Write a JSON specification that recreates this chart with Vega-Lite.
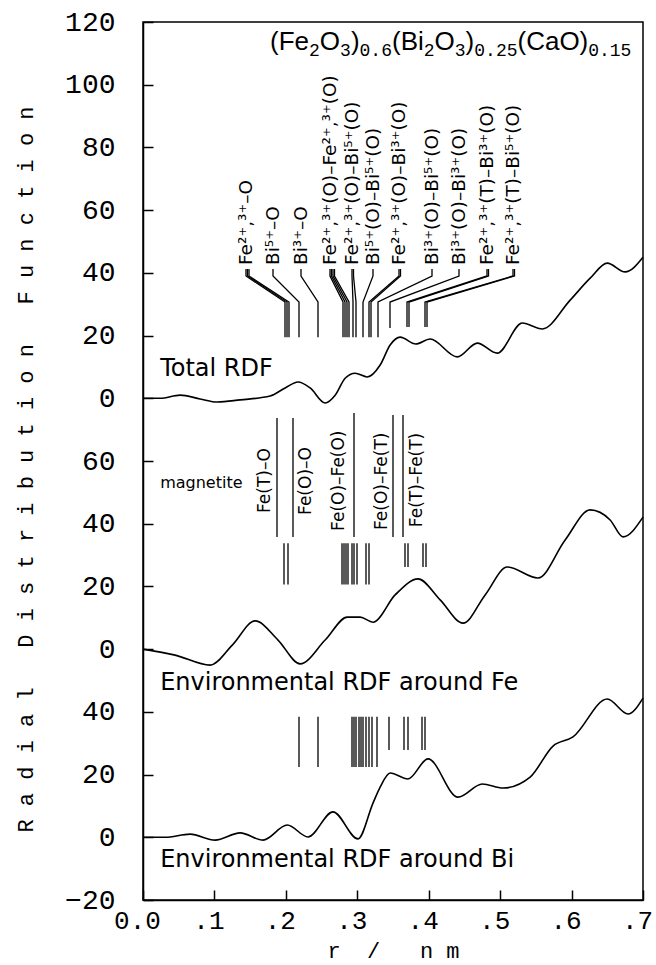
{
"$schema": "https://vega.github.io/schema/vega-lite/v6.json",
"width": 500, "height": 878,
"autosize": {"type": "none"},
"padding": {"left": 143, "top": 22, "right": 13, "bottom": 65},
"background": "white",
"config": {"view": {"stroke": "black", "strokeWidth": 1.5}, "axis": {"grid": false}},
"data": {"values": [
{"k":"c","s":"T","r":0,"g":0},{"k":"c","s":"T","r":0.024,"g":0},{"k":"c","s":"T","r":0.052,"g":1.0},{"k":"c","s":"T","r":0.080,"g":-0.2},{"k":"c","s":"T","r":0.104,"g":-1.2},{"k":"c","s":"T","r":0.136,"g":-0.5},{"k":"c","s":"T","r":0.178,"g":0.7},{"k":"c","s":"T","r":0.199,"g":3.3},{"k":"c","s":"T","r":0.217,"g":5.2},{"k":"c","s":"T","r":0.234,"g":3.3},{"k":"c","s":"T","r":0.255,"g":-1.5},{"k":"c","s":"T","r":0.269,"g":1.0},{"k":"c","s":"T","r":0.283,"g":6.4},{"k":"c","s":"T","r":0.297,"g":8.0},{"k":"c","s":"T","r":0.314,"g":6.8},{"k":"c","s":"T","r":0.332,"g":10.6},{"k":"c","s":"T","r":0.346,"g":17.0},{"k":"c","s":"T","r":0.360,"g":19.5},{"k":"c","s":"T","r":0.382,"g":17.3},{"k":"c","s":"T","r":0.402,"g":18.9},{"k":"c","s":"T","r":0.440,"g":13.2},{"k":"c","s":"T","r":0.468,"g":17.6},{"k":"c","s":"T","r":0.496,"g":14.4},{"k":"c","s":"T","r":0.531,"g":24.0},{"k":"c","s":"T","r":0.559,"g":22.1},{"k":"c","s":"T","r":0.598,"g":31.3},{"k":"c","s":"T","r":0.626,"g":38.3},{"k":"c","s":"T","r":0.650,"g":43.1},{"k":"c","s":"T","r":0.675,"g":40.3},{"k":"c","s":"T","r":0.700,"g":45.0},
{"k":"c","s":"F","r":0,"g":0},{"k":"c","s":"F","r":0.045,"g":-1.9},{"k":"c","s":"F","r":0.094,"g":-5.1},{"k":"c","s":"F","r":0.125,"g":1.3},{"k":"c","s":"F","r":0.157,"g":9.0},{"k":"c","s":"F","r":0.189,"g":2.9},{"k":"c","s":"F","r":0.220,"g":-4.7},{"k":"c","s":"F","r":0.255,"g":2.9},{"k":"c","s":"F","r":0.286,"g":10.2},{"k":"c","s":"F","r":0.304,"g":10.2},{"k":"c","s":"F","r":0.322,"g":8.6},{"k":"c","s":"F","r":0.353,"g":17.3},{"k":"c","s":"F","r":0.385,"g":22.4},{"k":"c","s":"F","r":0.416,"g":15.7},{"k":"c","s":"F","r":0.448,"g":8.3},{"k":"c","s":"F","r":0.479,"g":17.3},{"k":"c","s":"F","r":0.510,"g":26.2},{"k":"c","s":"F","r":0.553,"g":22.7},{"k":"c","s":"F","r":0.591,"g":34.8},{"k":"c","s":"F","r":0.626,"g":44.4},{"k":"c","s":"F","r":0.654,"g":41.2},{"k":"c","s":"F","r":0.672,"g":35.8},{"k":"c","s":"F","r":0.700,"g":42.1},
{"k":"c","s":"B","r":0,"g":0},{"k":"c","s":"B","r":0.031,"g":0},{"k":"c","s":"B","r":0.066,"g":1.0},{"k":"c","s":"B","r":0.101,"g":-0.9},{"k":"c","s":"B","r":0.136,"g":1.4},{"k":"c","s":"B","r":0.168,"g":-0.9},{"k":"c","s":"B","r":0.202,"g":3.9},{"k":"c","s":"B","r":0.231,"g":0.1},{"k":"c","s":"B","r":0.266,"g":8.1},{"k":"c","s":"B","r":0.301,"g":-0.5},{"k":"c","s":"B","r":0.322,"g":10.9},{"k":"c","s":"B","r":0.332,"g":16.0},{"k":"c","s":"B","r":0.346,"g":20.5},{"k":"c","s":"B","r":0.371,"g":18.6},{"k":"c","s":"B","r":0.399,"g":25.0},{"k":"c","s":"B","r":0.441,"g":12.8},{"k":"c","s":"B","r":0.475,"g":17.0},{"k":"c","s":"B","r":0.504,"g":15.7},{"k":"c","s":"B","r":0.542,"g":19.2},{"k":"c","s":"B","r":0.574,"g":29.1},{"k":"c","s":"B","r":0.602,"g":32.0},{"k":"c","s":"B","r":0.650,"g":44.1},{"k":"c","s":"B","r":0.679,"g":39.3},{"k":"c","s":"B","r":0.700,"g":44.4},

{"k":"s","s":"T","id":"t1a","o":0,"r":0.1442,"g":41.2},{"k":"s","s":"T","id":"t1a","o":1,"r":0.1442,"g":39.0},{"k":"s","s":"T","id":"t1a","o":2,"r":0.1988,"g":30.7},{"k":"s","s":"T","id":"t1a","o":3,"r":0.1988,"g":19.5},
{"k":"s","s":"T","id":"t1b","o":0,"r":0.1463,"g":41.2},{"k":"s","s":"T","id":"t1b","o":1,"r":0.1463,"g":39.0},{"k":"s","s":"T","id":"t1b","o":2,"r":0.2016,"g":30.7},{"k":"s","s":"T","id":"t1b","o":3,"r":0.2016,"g":19.5},
{"k":"s","s":"T","id":"t1c","o":0,"r":0.1484,"g":41.2},{"k":"s","s":"T","id":"t1c","o":1,"r":0.1484,"g":39.0},{"k":"s","s":"T","id":"t1c","o":2,"r":0.2044,"g":30.7},{"k":"s","s":"T","id":"t1c","o":3,"r":0.2044,"g":19.5},
{"k":"s","s":"T","id":"t2","o":0,"r":0.1820,"g":41.2},{"k":"s","s":"T","id":"t2","o":1,"r":0.1820,"g":39.0},{"k":"s","s":"T","id":"t2","o":2,"r":0.2184,"g":30.7},{"k":"s","s":"T","id":"t2","o":3,"r":0.2184,"g":19.5},
{"k":"s","s":"T","id":"t3","o":0,"r":0.2212,"g":41.2},{"k":"s","s":"T","id":"t3","o":1,"r":0.2212,"g":39.0},{"k":"s","s":"T","id":"t3","o":2,"r":0.2450,"g":30.7},{"k":"s","s":"T","id":"t3","o":3,"r":0.2450,"g":19.5},
{"k":"s","s":"T","id":"t4a","o":0,"r":0.2618,"g":41.2},{"k":"s","s":"T","id":"t4a","o":1,"r":0.2618,"g":39.0},{"k":"s","s":"T","id":"t4a","o":2,"r":0.2800,"g":30.7},{"k":"s","s":"T","id":"t4a","o":3,"r":0.2800,"g":19.5},
{"k":"s","s":"T","id":"t4b","o":0,"r":0.2639,"g":41.2},{"k":"s","s":"T","id":"t4b","o":1,"r":0.2639,"g":39.0},{"k":"s","s":"T","id":"t4b","o":2,"r":0.2828,"g":30.7},{"k":"s","s":"T","id":"t4b","o":3,"r":0.2828,"g":19.5},
{"k":"s","s":"T","id":"t4c","o":0,"r":0.2660,"g":41.2},{"k":"s","s":"T","id":"t4c","o":1,"r":0.2660,"g":39.0},{"k":"s","s":"T","id":"t4c","o":2,"r":0.2856,"g":30.7},{"k":"s","s":"T","id":"t4c","o":3,"r":0.2856,"g":19.5},
{"k":"s","s":"T","id":"t4d","o":0,"r":0.2681,"g":41.2},{"k":"s","s":"T","id":"t4d","o":1,"r":0.2681,"g":39.0},{"k":"s","s":"T","id":"t4d","o":2,"r":0.2884,"g":30.7},{"k":"s","s":"T","id":"t4d","o":3,"r":0.2884,"g":19.5},
{"k":"s","s":"T","id":"t5a","o":0,"r":0.2926,"g":41.2},{"k":"s","s":"T","id":"t5a","o":1,"r":0.2926,"g":39.0},{"k":"s","s":"T","id":"t5a","o":2,"r":0.2940,"g":30.7},{"k":"s","s":"T","id":"t5a","o":3,"r":0.2940,"g":19.5},
{"k":"s","s":"T","id":"t5b","o":0,"r":0.2947,"g":41.2},{"k":"s","s":"T","id":"t5b","o":1,"r":0.2947,"g":39.0},{"k":"s","s":"T","id":"t5b","o":2,"r":0.2982,"g":30.7},{"k":"s","s":"T","id":"t5b","o":3,"r":0.2982,"g":19.5},
{"k":"s","s":"T","id":"t6","o":0,"r":0.3220,"g":41.2},{"k":"s","s":"T","id":"t6","o":1,"r":0.3220,"g":39.0},{"k":"s","s":"T","id":"t6","o":2,"r":0.3080,"g":30.7},{"k":"s","s":"T","id":"t6","o":3,"r":0.3080,"g":19.5},
{"k":"s","s":"T","id":"t7a","o":0,"r":0.3584,"g":41.2},{"k":"s","s":"T","id":"t7a","o":1,"r":0.3584,"g":39.0},{"k":"s","s":"T","id":"t7a","o":2,"r":0.3164,"g":30.7},{"k":"s","s":"T","id":"t7a","o":3,"r":0.3164,"g":19.5},
{"k":"s","s":"T","id":"t7b","o":0,"r":0.3605,"g":41.2},{"k":"s","s":"T","id":"t7b","o":1,"r":0.3605,"g":39.0},{"k":"s","s":"T","id":"t7b","o":2,"r":0.3192,"g":30.7},{"k":"s","s":"T","id":"t7b","o":3,"r":0.3192,"g":19.5},
{"k":"s","s":"T","id":"t8","o":0,"r":0.4046,"g":41.2},{"k":"s","s":"T","id":"t8","o":1,"r":0.4046,"g":39.0},{"k":"s","s":"T","id":"t8","o":2,"r":0.3290,"g":30.7},{"k":"s","s":"T","id":"t8","o":3,"r":0.3290,"g":19.5},
{"k":"s","s":"T","id":"t9","o":0,"r":0.4424,"g":41.2},{"k":"s","s":"T","id":"t9","o":1,"r":0.4424,"g":39.0},{"k":"s","s":"T","id":"t9","o":2,"r":0.3458,"g":30.7},{"k":"s","s":"T","id":"t9","o":3,"r":0.3458,"g":22.4},
{"k":"s","s":"T","id":"t10a","o":0,"r":0.4816,"g":41.2},{"k":"s","s":"T","id":"t10a","o":1,"r":0.4816,"g":39.0},{"k":"s","s":"T","id":"t10a","o":2,"r":0.3696,"g":30.7},{"k":"s","s":"T","id":"t10a","o":3,"r":0.3696,"g":22.7},
{"k":"s","s":"T","id":"t10b","o":0,"r":0.4837,"g":41.2},{"k":"s","s":"T","id":"t10b","o":1,"r":0.4837,"g":39.0},{"k":"s","s":"T","id":"t10b","o":2,"r":0.3724,"g":30.7},{"k":"s","s":"T","id":"t10b","o":3,"r":0.3724,"g":22.7},
{"k":"s","s":"T","id":"t11a","o":0,"r":0.5180,"g":41.2},{"k":"s","s":"T","id":"t11a","o":1,"r":0.5180,"g":39.0},{"k":"s","s":"T","id":"t11a","o":2,"r":0.3948,"g":30.7},{"k":"s","s":"T","id":"t11a","o":3,"r":0.3948,"g":22.7},
{"k":"s","s":"T","id":"t11b","o":0,"r":0.5201,"g":41.2},{"k":"s","s":"T","id":"t11b","o":1,"r":0.5201,"g":39.0},{"k":"s","s":"T","id":"t11b","o":2,"r":0.3976,"g":30.7},{"k":"s","s":"T","id":"t11b","o":3,"r":0.3976,"g":22.7},

{"k":"l","s":"F","r":0.1876,"g":35.8,"g2":73.7},{"k":"l","s":"F","r":0.2100,"g":35.8,"g2":73.7},{"k":"l","s":"F","r":0.2954,"g":35.8,"g2":75.3},{"k":"l","s":"F","r":0.3500,"g":35.8,"g2":74.7},{"k":"l","s":"F","r":0.3640,"g":35.8,"g2":74.7},
{"k":"l","s":"F","r":0.1974,"g":20.6,"g2":33.8},{"k":"l","s":"F","r":0.2030,"g":20.6,"g2":33.8},{"k":"l","s":"F","r":0.2786,"g":20.6,"g2":33.8},{"k":"l","s":"F","r":0.2814,"g":20.6,"g2":33.8},{"k":"l","s":"F","r":0.2842,"g":20.6,"g2":33.8},{"k":"l","s":"F","r":0.2870,"g":20.6,"g2":33.8},{"k":"l","s":"F","r":0.2926,"g":20.6,"g2":33.8},{"k":"l","s":"F","r":0.2954,"g":20.6,"g2":33.8},{"k":"l","s":"F","r":0.2996,"g":20.6,"g2":33.8},{"k":"l","s":"F","r":0.3122,"g":20.6,"g2":33.8},{"k":"l","s":"F","r":0.3164,"g":20.6,"g2":33.8},
{"k":"l","s":"F","r":0.3668,"g":26.2,"g2":33.8},{"k":"l","s":"F","r":0.3710,"g":26.2,"g2":33.8},{"k":"l","s":"F","r":0.3920,"g":26.2,"g2":33.8},{"k":"l","s":"F","r":0.3962,"g":26.2,"g2":33.8},
{"k":"l","s":"B","r":0.2184,"g":22.4,"g2":38.4},{"k":"l","s":"B","r":0.2450,"g":22.4,"g2":38.4},{"k":"l","s":"B","r":0.2926,"g":22.4,"g2":38.4},{"k":"l","s":"B","r":0.2954,"g":22.4,"g2":38.4},{"k":"l","s":"B","r":0.2982,"g":22.4,"g2":38.4},{"k":"l","s":"B","r":0.3024,"g":22.4,"g2":38.4},{"k":"l","s":"B","r":0.3052,"g":22.4,"g2":38.4},{"k":"l","s":"B","r":0.3080,"g":22.4,"g2":38.4},{"k":"l","s":"B","r":0.3122,"g":22.4,"g2":38.4},{"k":"l","s":"B","r":0.3164,"g":22.4,"g2":38.4},{"k":"l","s":"B","r":0.3206,"g":22.4,"g2":38.4},{"k":"l","s":"B","r":0.3276,"g":22.4,"g2":38.4},
{"k":"l","s":"B","r":0.3444,"g":27.8,"g2":38.4},{"k":"l","s":"B","r":0.3654,"g":27.8,"g2":38.4},{"k":"l","s":"B","r":0.3710,"g":27.8,"g2":38.4},{"k":"l","s":"B","r":0.3906,"g":27.8,"g2":38.4},{"k":"l","s":"B","r":0.3948,"g":27.8,"g2":38.4},

{"k":"a","s":"T","r":0.1442,"g":42.5,"t":"Fe²⁺,³⁺–O"},
{"k":"a","s":"T","r":0.1820,"g":42.5,"t":"Bi⁵⁺–O"},
{"k":"a","s":"T","r":0.2212,"g":42.5,"t":"Bi³⁺–O"},
{"k":"a","s":"T","r":0.2618,"g":42.5,"t":"Fe²⁺,³⁺(O)–Fe²⁺,³⁺(O)"},
{"k":"a","s":"T","r":0.2926,"g":42.5,"t":"Fe²⁺,³⁺(O)–Bi⁵⁺(O)"},
{"k":"a","s":"T","r":0.3220,"g":42.5,"t":"Bi⁵⁺(O)–Bi⁵⁺(O)"},
{"k":"a","s":"T","r":0.3584,"g":42.5,"t":"Fe²⁺,³⁺(O)–Bi³⁺(O)"},
{"k":"a","s":"T","r":0.4046,"g":42.5,"t":"Bi³⁺(O)–Bi⁵⁺(O)"},
{"k":"a","s":"T","r":0.4424,"g":42.5,"t":"Bi³⁺(O)–Bi³⁺(O)"},
{"k":"a","s":"T","r":0.4816,"g":42.5,"t":"Fe²⁺,³⁺(T)–Bi³⁺(O)"},
{"k":"a","s":"T","r":0.5180,"g":42.5,"t":"Fe²⁺,³⁺(T)–Bi⁵⁺(O)"},
{"k":"a2","s":"F","r":0.1708,"g":43.4,"t":"Fe(T)–O"},
{"k":"a2","s":"F","r":0.2282,"g":42.8,"t":"Fe(O)–O"},
{"k":"a2","s":"F","r":0.2744,"g":37.7,"t":"Fe(O)–Fe(O)"},
{"k":"a2","s":"F","r":0.3346,"g":38.0,"t":"Fe(O)–Fe(T)"},
{"k":"a2","s":"F","r":0.3836,"g":38.9,"t":"Fe(T)–Fe(T)"},

{"k":"h","s":"T","r":0.024,"g":9.3,"t":"Total RDF"},
{"k":"h","s":"F","r":0.024,"g":-10.8,"t":"Environmental RDF around Fe"},
{"k":"h","s":"B","r":0.024,"g":-7.2,"t":"Environmental RDF around Bi"},
{"k":"m","s":"F","r":0.024,"g":53.0,"t":"magnetite"},

{"k":"tm","s":"T","r":0.1778,"g":111.0,"t":"(Fe"},
{"k":"ts","s":"T","r":0.2324,"g":109.0,"t":"2"},
{"k":"tm","s":"T","r":0.2475,"g":111.0,"t":"O"},
{"k":"ts","s":"T","r":0.2759,"g":109.0,"t":"3"},
{"k":"tm","s":"T","r":0.2911,"g":111.0,"t":")"},
{"k":"ts","s":"T","r":0.3032,"g":109.0,"t":"0.6"},
{"k":"tm","s":"T","r":0.3486,"g":111.0,"t":"(Bi"},
{"k":"ts","s":"T","r":0.3930,"g":109.0,"t":"2"},
{"k":"tm","s":"T","r":0.4081,"g":111.0,"t":"O"},
{"k":"ts","s":"T","r":0.4365,"g":109.0,"t":"3"},
{"k":"tm","s":"T","r":0.4516,"g":111.0,"t":")"},
{"k":"ts","s":"T","r":0.4638,"g":109.0,"t":"0.25"},
{"k":"tm","s":"T","r":0.5243,"g":111.0,"t":"(CaO)"},
{"k":"ts","s":"T","r":0.6233,"g":109.0,"t":"0.15"}
]},
"transform": [
 {"calculate": "datum.s === 'T' ? 140 : (datum.s === 'F' ? 60 : 0)", "as": "off"},
 {"calculate": "datum.g + datum.off", "as": "u"},
 {"calculate": "datum.g2 + datum.off", "as": "u2"}
],
"encoding": {
 "x": {"field": "r", "type": "quantitative", "scale": {"domain": [0, 0.7], "nice": false, "zero": false},
   "axis": {"values": [0, 0.1, 0.2, 0.3, 0.4, 0.5, 0.6, 0.7], "labelExpr": "datum.value == 0 ? '0.0' : '.' + format(datum.value * 10, 'd')",
     "labelFont": "Liberation Mono", "labelFontSize": 26, "labelColor": "black", "labelFlush": false, "labelOverlap": false, "labelPadding": 17, "labelOffset": -6,
     "tickSize": -10, "tickWidth": 1.5, "tickColor": "black", "domainColor": "black", "domainWidth": 1.5,
     "title": "r \u00a0/ \u00a0 n m", "titleFont": "Liberation Mono", "titleFontSize": 22, "titleFontWeight": "normal", "titleColor": "black", "titleY": 50, "titleBaseline": "middle"}},
 "y": {"field": "u", "type": "quantitative", "scale": {"domain": [-20, 260], "nice": false, "zero": false},
   "axis": {"values": [-20, 0, 20, 40, 60, 80, 100, 120, 140, 160, 180, 200, 220, 240, 260],
     "labelExpr": "format(datum.value < 60 ? datum.value : (datum.value < 140 ? datum.value - 60 : datum.value - 140), 'd')",
     "labelFont": "Liberation Mono", "labelFontSize": 28, "labelColor": "black", "labelFlush": false, "labelOverlap": false, "labelPadding": 38,
     "tickSize": -10, "tickWidth": 1.5, "tickColor": "black", "domainColor": "black", "domainWidth": 1.5,
     "title": "R a d i a l \u00a0 D i s t r i b u t i o n \u00a0 F u n c t i o n", "titleFont": "Liberation Mono", "titleFontSize": 22, "titleFontWeight": "normal", "titleColor": "black",
     "titleAngle": 270, "titleX": -118, "titleY": 447, "titleAlign": "center", "titleBaseline": "middle"}}
},
"layer": [
 {"transform": [{"filter": "datum.k === 'c'"}], "mark": {"type": "line", "interpolate": "monotone", "color": "black", "strokeWidth": 1.6},
  "encoding": {"detail": {"field": "s"}}},
 {"transform": [{"filter": "datum.k === 's'"}], "mark": {"type": "line", "color": "black", "strokeWidth": 1.3},
  "encoding": {"detail": {"field": "id"}, "order": {"field": "o", "type": "quantitative"}}},
 {"transform": [{"filter": "datum.k === 'l'"}], "mark": {"type": "rule", "color": "black", "strokeWidth": 1.3},
  "encoding": {"y2": {"field": "u2"}}},
 {"transform": [{"filter": "datum.k === 'a'"}], "mark": {"type": "text", "angle": 270, "align": "left", "baseline": "middle", "font": "DejaVu Sans", "fontSize": 18.5, "color": "black"},
  "encoding": {"text": {"field": "t"}}},
 {"transform": [{"filter": "datum.k === 'a2'"}], "mark": {"type": "text", "angle": 270, "align": "left", "baseline": "middle", "font": "DejaVu Sans", "fontSize": 17, "color": "black"},
  "encoding": {"text": {"field": "t"}}},
 {"transform": [{"filter": "datum.k === 'h'"}], "mark": {"type": "text", "align": "left", "baseline": "middle", "font": "DejaVu Sans", "fontSize": 24, "color": "black"},
  "encoding": {"text": {"field": "t"}}},
 {"transform": [{"filter": "datum.k === 'm'"}], "mark": {"type": "text", "align": "left", "baseline": "middle", "font": "DejaVu Sans", "fontSize": 16, "color": "black"},
  "encoding": {"text": {"field": "t"}}},
 {"transform": [{"filter": "datum.k === 'tm'"}], "mark": {"type": "text", "align": "left", "baseline": "alphabetic", "font": "Liberation Sans", "fontSize": 26, "color": "black"},
  "encoding": {"text": {"field": "t"}}},
 {"transform": [{"filter": "datum.k === 'ts'"}], "mark": {"type": "text", "align": "left", "baseline": "alphabetic", "font": "Liberation Mono", "fontSize": 18, "color": "black"},
  "encoding": {"text": {"field": "t"}}}
]
}
